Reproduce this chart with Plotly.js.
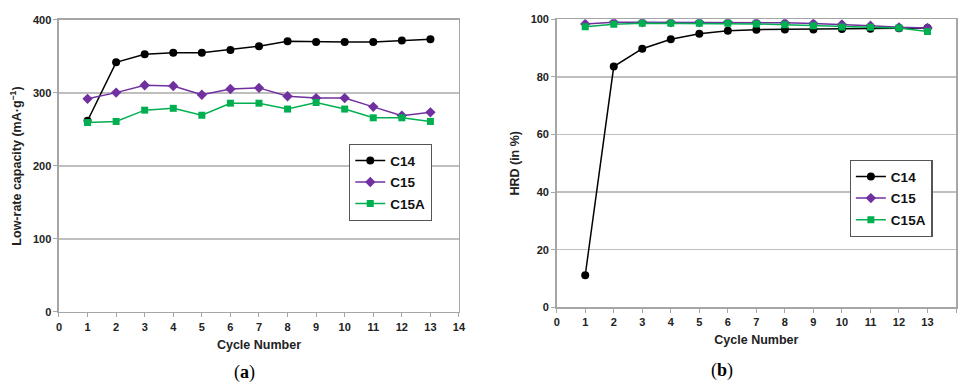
<!DOCTYPE html>
<html><head><meta charset="utf-8">
<script src="https://cdn.plot.ly/plotly-3.0.1.min.js"></script>
<style>html,body{margin:0;padding:0;background:#fff}#c{width:959px;height:383px}</style>
</head><body><div id="c"></div>
<script>
const cycles = [1,2,3,4,5,6,7,8,9,10,11,12,13];
const capC14  = [262,342,353,355,355,359,364,371,370,370,370,372,373.5];
const capC15  = [292,300.5,310.5,309.5,297.5,305.5,307,295.5,293,293,281,269,273.5];
const capC15A = [259.5,261,276.5,279,269.5,286,286,278,287,278,266,266,261];
const hrdC14  = [11.1,83.6,89.8,93.1,95,96,96.4,96.5,96.5,96.6,96.7,96.9,97];
const hrdC15  = [98.4,99,99,99,99,99,98.9,98.8,98.5,98.2,97.8,97.2,97];
const hrdC15A = [97.4,98.3,98.6,98.6,98.6,98.6,98.4,98.1,97.8,97.3,97.2,97,95.8];
const names = ['C14','C15','C15A'];
const colors = ['#000000','#7030A0','#00B050'];
const symbols = ['circle','diamond','square'];
const msize = [8,8,7];

const traces = [];
[capC14,capC15,capC15A].forEach((v,i)=>traces.push({
  x:cycles,y:v,name:names[i],type:'scatter',mode:'lines+markers',xaxis:'x',yaxis:'y',legend:'legend',legendgroup:'a'+i,
  line:{color:colors[i],width:1.5},marker:{color:colors[i],symbol:symbols[i],size:msize[i]}
}));
[hrdC14,hrdC15,hrdC15A].forEach((v,i)=>traces.push({
  x:cycles,y:v,name:names[i],type:'scatter',mode:'lines+markers',xaxis:'x2',yaxis:'y2',legend:'legend2',legendgroup:'b'+i,
  line:{color:colors[i],width:1.5},marker:{color:colors[i],symbol:symbols[i],size:msize[i]}
}));

const tf = {family:'Liberation Sans, Arial, sans-serif',size:11,color:'#222',weight:'bold'};
const titf = {family:'Liberation Sans, Arial, sans-serif',size:12.5,color:'#222',weight:'bold'};
function xa(dom,anc){return {domain:dom,anchor:anc,range:[0,14],dtick:1,tick0:0,showgrid:false,zeroline:false,
  showline:true,linecolor:'#A6A6A6',linewidth:1.5,mirror:true,ticks:'outside',ticklen:4,tickcolor:'#A6A6A6',
  tickfont:tf,title:{text:'Cycle Number',font:titf,standoff:8}};}
function ya(dom,anc,rng,dt,title){return {domain:dom,anchor:anc,range:rng,dtick:dt,showgrid:true,gridcolor:'#BFBFBF',gridwidth:1.5,
  zeroline:false,showline:true,linecolor:'#A6A6A6',linewidth:1.5,mirror:true,ticks:'outside',ticklen:4,tickcolor:'#A6A6A6',
  tickfont:tf,title:{text:title,font:titf,standoff:8}};}
const legf = {family:'Liberation Sans, Arial, sans-serif',size:13.5,color:'#111',weight:'bold'};
const layout = {
  width:959,height:383,margin:{l:0,r:0,t:0,b:0,autoexpand:false},paper_bgcolor:'#fff',plot_bgcolor:'#fff',
  xaxis:xa([0.0615,0.4786],'y'),
  yaxis:ya([0.1854,0.9478],'x',[0,400],100,'Low-rate capacity (mA·g<sup>−1</sup>)'),
  xaxis2:xa([0.5805,0.9969],'y2'),
  yaxis2:ya([0.1977,0.9496],'x2',[0,100],20,'HRD (in %)'),
  legend:{x:0.364,y:0.624,xanchor:'left',yanchor:'top',bgcolor:'#fff',bordercolor:'#555',borderwidth:1.2,
    font:legf,itemwidth:30,tracegroupgap:1},
  legend2:{x:0.886,y:0.582,xanchor:'left',yanchor:'top',bgcolor:'#fff',bordercolor:'#555',borderwidth:1.2,
    font:legf,itemwidth:30,tracegroupgap:1},
  showlegend:true,
  annotations:[
    {text:'(<b>a</b>)',xref:'paper',yref:'paper',x:232/959,y:1-372/383,yanchor:'middle',showarrow:false,
     font:{family:'Liberation Serif, DejaVu Serif, serif',size:18,color:'#000'}},
    {text:'(<b>b</b>)',xref:'paper',yref:'paper',x:735/959,y:1-370/383,yanchor:'middle',showarrow:false,
     font:{family:'Liberation Serif, DejaVu Serif, serif',size:18,color:'#000'}}
  ]
};
Plotly.newPlot('c',traces,layout,{displayModeBar:false,staticPlot:true});
</script></body></html>
